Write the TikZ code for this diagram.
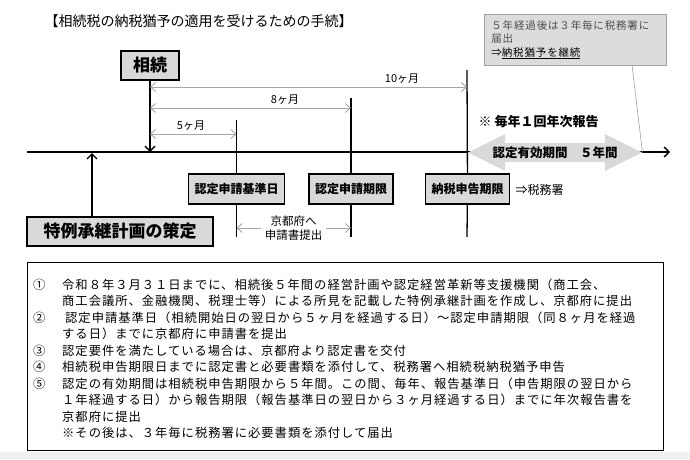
\documentclass[tikz,border=0pt]{standalone}
\usepackage{fontspec}
\setmainfont{Noto Sans CJK JP}
\usetikzlibrary{arrows, arrows.meta, shapes}
\definecolor{boxgray}{HTML}{D9D9D9}
\definecolor{dimgray}{HTML}{A6A6A6}
\definecolor{notefill}{HTML}{DCDCDC}
\definecolor{notedraw}{HTML}{A0A0A0}
\definecolor{notetext}{HTML}{4D4D4D}
\definecolor{edgegray}{HTML}{F0F0F0}
\tikzstyle{event} = [draw=black, fill=boxgray, line width=1.3pt, inner xsep=6pt, minimum height=30pt,
                     font=\fontsize{12}{14}\selectfont\bfseries]
\tikzstyle{bigevent} = [event, minimum height=29pt, font=\fontsize{17}{20}\selectfont\bfseries]
\tikzstyle{tick} = [draw=black, line width=1.3pt]
\tikzstyle{flow} = [tick, ->, >={Straight Barb[length=5pt, width=10pt]}]
\tikzstyle{dim} = [draw=dimgray, line width=0.9pt, >={Straight Barb[length=5pt, width=9pt]}]
\tikzstyle{dimlabel} = [font=\fontsize{11}{13}\selectfont]
\tikzstyle{notebox} = [draw=notedraw, fill=notefill, line width=0.8pt, text=notetext, align=left,
                       text width=168pt, minimum height=51pt, inner xsep=7pt, inner ysep=3pt,
                       font=\fontsize{10.5}{13.5}\selectfont\addfontfeature{LetterSpace=8}]
\tikzstyle{validarrow} = [double arrow, fill=boxgray, minimum height=174pt, minimum width=37pt,
                          double arrow head extend=9pt, double arrow tip angle=53, inner xsep=0pt,
                          inner ysep=3pt, font=\fontsize{12.5}{14}\selectfont\bfseries]
\tikzstyle{steptext} = [anchor=base west, inner sep=0pt,
                        font=\fontsize{12.3}{16}\selectfont\addfontfeature{LetterSpace=8}]

\begin{document}
\begin{tikzpicture}[x=1pt, y=-1pt]
	\useasboundingbox (0,0) rectangle (690,459);
	\fill [edgegray] (0,452) rectangle (690,459);

	\node (Title) [anchor=west, font=\fontsize{14}{16}\selectfont] at (41,21) {【相続税の納税猶予の適用を受けるための手続】};

	% the time line
	\coordinate (LineStart) at (27,152);
	\coordinate (LineEnd) at (670,152);
	\draw [flow] (LineStart) -- (LineEnd);

	% inheritance
	\node (Souzoku) [bigevent, minimum width=58pt] at (150,65.5) {相続};
	\coordinate (SouzokuHit) at (150,152);
	\draw [flow] (Souzoku) -- (SouzokuHit);

	% the three deadlines
	\coordinate (KijunTop) at (236.5,120);
	\coordinate (KijunFoot) at (236.5,237);
	\node (Kijun) [event] at (236.5,189) {認定申請基準日};
	\draw [tick] (KijunTop) -- (Kijun);
	\draw [tick] (Kijun) -- (KijunFoot);

	\coordinate (KigenTop) at (351,98);
	\coordinate (KigenFoot) at (351,237);
	\node (Kigen) [event] at (351,189) {認定申請期限};
	\draw [tick] (KigenTop) -- (Kigen);
	\draw [tick] (Kigen) -- (KigenFoot);

	\coordinate (NouzeiTop) at (467,70);
	\coordinate (NouzeiFoot) at (467,237);
	\node (Nouzei) [event] at (467.5,189) {納税申告期限};
	\draw [tick] (NouzeiTop) -- (Nouzei);
	\draw [tick] (Nouzei) -- (NouzeiFoot);
	\node (Zeimusho) [anchor=west, font=\fontsize{12}{14}\selectfont] at (512,190) {⇒税務署};

	% months after inheritance
	\draw [dim, <->] (150,87) -- (NouzeiTop |- 0,87);
	\node (Label10) [dimlabel] at (402,79) {10ヶ月};
	\draw [dim, <->] (150,108) -- (KigenTop |- 0,108);
	\node (Label8) [dimlabel] at (285,100) {8ヶ月};
	\draw [dim, <->] (150,134) -- (KijunTop |- 0,134);
	\node (Label5) [dimlabel] at (191,126) {5ヶ月};

	\node (Kyoto) [dimlabel, align=center, font=\fontsize{11.5}{13.5}\selectfont] at (293.5,228) {京都府へ\\申請書提出};
	\draw [dim, ->] (Kyoto.west) -- (Kyoto.west -| KijunFoot);
	\draw [dim, ->] (Kyoto.east) -- (Kyoto.east -| KigenFoot);

	% plan
	\node (Keikaku) [bigevent, minimum width=186pt] at (120,231.5) {特例承継計画の策定};
	\coordinate (PlanHit) at (92,153);
	\draw [flow] (Keikaku.north -| PlanHit) -- (PlanHit);

	% validity and annual report
	\node (Annual) [anchor=west, font=\fontsize{13}{15}\selectfont\bfseries] at (475,122) {※ 毎年１回年次報告};
	\node (Valid) [validarrow] at (555,152.5) {認定有効期間　５年間};

	\node (Note) [notebox, anchor=north west] at (484,14) {５年経過後は３年毎に税務署に\\届出\\{\color{black}⇒\underline{納税猶予を継続}}};
	\coordinate (NoteFoot) at (632,65);
	\draw [notedraw, line width=0.6pt] (NoteFoot) -- (Valid.east);

	% the steps
	\node (Steps) [draw=black, line width=0.9pt, minimum width=636pt, minimum height=188pt, inner sep=0pt,
	               anchor=north west] at (27,262) {};

	\node (N1) [steptext] at (33,289) {①};
	\node (S1) [steptext] at (62,289) {令和８年３月３１日までに、相続後５年間の経営計画や認定経営革新等支援機関（商工会、};
	\node (S1b) [steptext] at (62,305.5) {商工会議所、金融機関、税理士等）による所見を記載した特例承継計画を作成し、京都府に提出};
	\node (N2) [steptext] at (33,322) {②};
	\node (S2) [steptext] at (65,322) {認定申請基準日（相続開始日の翌日から５ヶ月を経過する日）～認定申請期限（同８ヶ月を経過};
	\node (S2b) [steptext] at (62,338.5) {する日）までに京都府に申請書を提出};
	\node (N3) [steptext] at (33,355) {③};
	\node (S3) [steptext] at (62,355) {認定要件を満たしている場合は、京都府より認定書を交付};
	\node (N4) [steptext] at (33,371.5) {④};
	\node (S4) [steptext] at (62,371.5) {相続税申告期限日までに認定書と必要書類を添付して、税務署へ相続税納税猶予申告};
	\node (N5) [steptext] at (33,388) {⑤};
	\node (S5) [steptext] at (62,388) {認定の有効期間は相続税申告期限から５年間。この間、毎年、報告基準日（申告期限の翌日から};
	\node (S5b) [steptext] at (62,404.5) {１年経過する日）から報告期限（報告基準日の翌日から３ヶ月経過する日）までに年次報告書を};
	\node (S5c) [steptext] at (62,421) {京都府に提出};
	\node (S5d) [steptext] at (62,437.5) {※その後は、３年毎に税務署に必要書類を添付して届出};
\end{tikzpicture}
\end{document}
